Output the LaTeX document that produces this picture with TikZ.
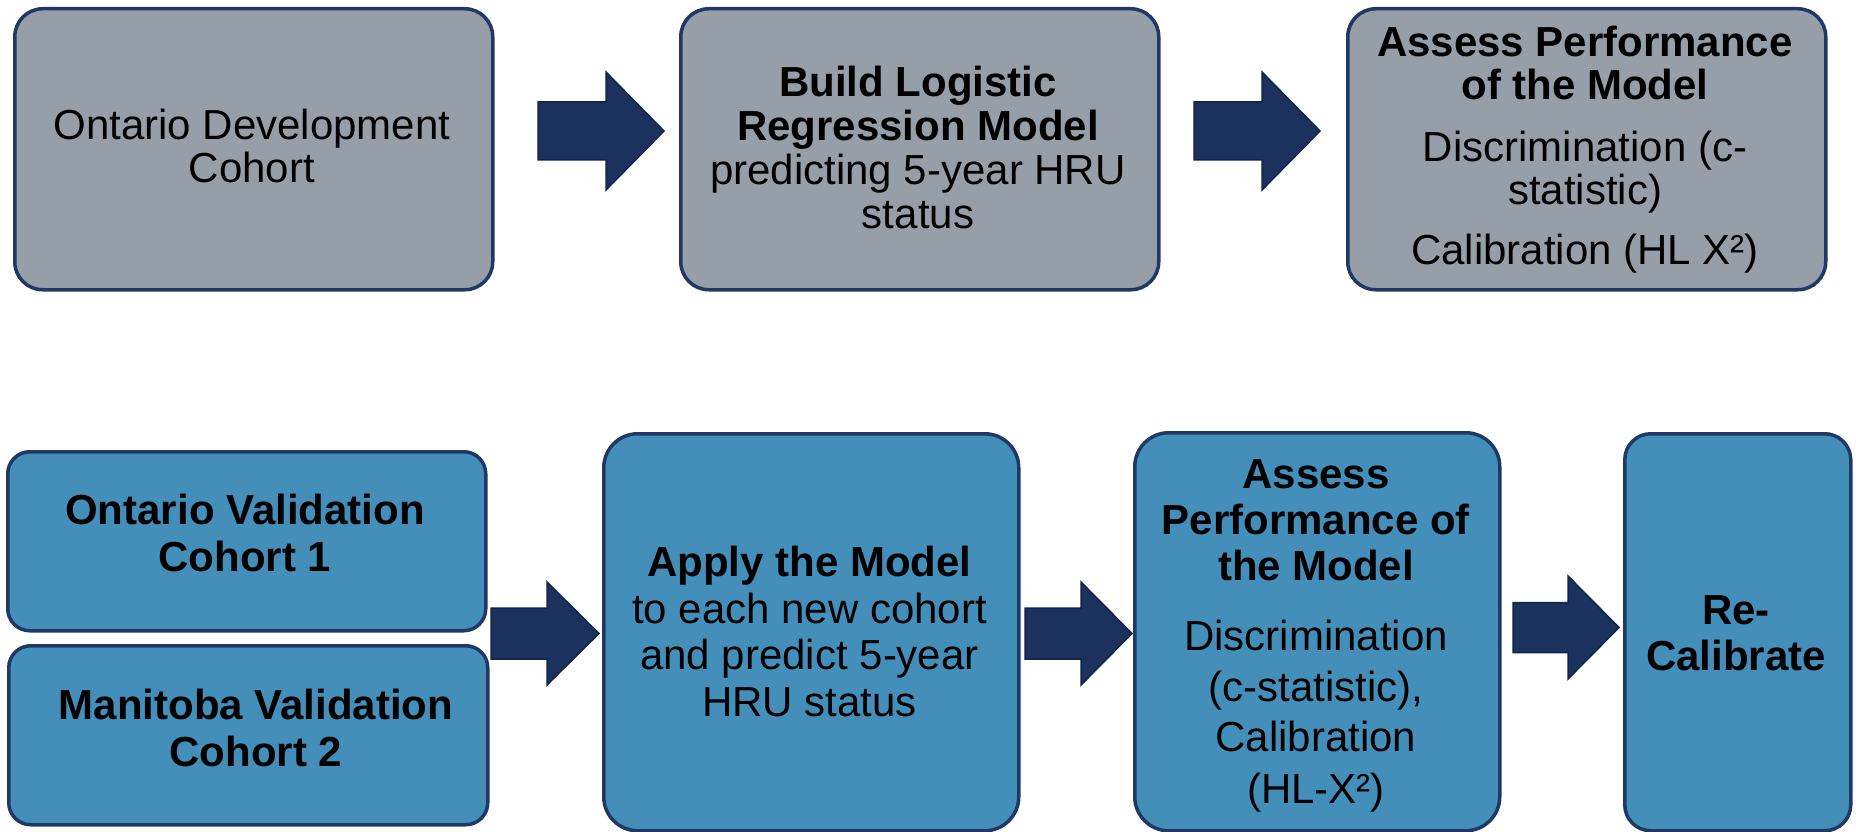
\documentclass[tikz,border=0pt]{standalone}
\usepackage{fontspec}
\setmainfont{Liberation Sans}
\definecolor{boxgray}{RGB}{150,158,168}
\definecolor{boxblue}{RGB}{68,143,186}
\definecolor{navy}{RGB}{31,56,100}
\definecolor{arrowfill}{RGB}{27,49,94}
\definecolor{arrowline}{RGB}{18,36,72}
% block arrow: x-start, x-tip, y-centre, head length, shaft half-width, head half-width
\newcommand{\blockarrow}[6]{%
  \draw[blockarr] (#1,#3-#5) -- (#2-#4,#3-#5) -- (#2-#4,#3-#6) -- (#2,#3)
    -- (#2-#4,#3+#6) -- (#2-#4,#3+#5) -- (#1,#3+#5) -- cycle;}
\begin{document}
\begin{tikzpicture}[x=1pt,y=-1pt,
  box/.style={draw=navy, line width=3.5pt, inner sep=0pt, anchor=north west},
  graybox/.style={box, fill=boxgray},
  bluebox/.style={box, fill=boxblue},
  txt/.style={align=center, inner sep=0pt, text=black,
    execute at begin node=\strut, execute at end node=\strut},
  blockarr/.style={draw=arrowline, fill=arrowfill, line width=1.5pt, line join=miter}
]
\useasboundingbox (0,0) rectangle (1856,832);

% top row boxes
\node[graybox, minimum width=478pt, minimum height=281pt, rounded corners=28pt] (b1) at (13,7) {};
\node[graybox, minimum width=478pt, minimum height=281pt, rounded corners=28pt] (b2) at (679,7) {};
\node[graybox, minimum width=478pt, minimum height=281pt, rounded corners=28pt] (b3) at (1346,7) {};

% bottom row boxes
\node[bluebox, minimum width=478pt, minimum height=179pt, rounded corners=22pt] (b4) at (6,450) {};
\node[bluebox, minimum width=479pt, minimum height=179pt, rounded corners=22pt] (b5) at (7,644) {};
\node[bluebox, minimum width=415pt, minimum height=397pt, rounded corners=34pt] (b6) at (602,432) {};
\node[bluebox, minimum width=365pt, minimum height=398pt, rounded corners=34pt] (b7) at (1133,431) {};
\node[bluebox, minimum width=226pt, minimum height=397pt, rounded corners=26pt] (b8) at (1623,432) {};

% block arrows
\blockarrow{538}{664}{131}{58}{29}{59}
\blockarrow{1194}{1320}{131}{58}{29}{59}
\blockarrow{491}{599}{633.5}{52}{25.5}{51.5}
\blockarrow{1025}{1132}{633.5}{51}{25.5}{51.5}
\blockarrow{1513}{1619}{627.5}{51}{25}{51.5}

% texts
\node[txt, font=\fontsize{42}{43}\selectfont] (t1) at (252,152.5)
  {Ontario Development\\Cohort};
\node[txt, font=\fontsize{42}{44}\selectfont] (t2) at (918,154)
  {\textbf{Build Logistic}\\\textbf{Regression Model}\\predicting 5-year HRU\\status};
\node[txt, font=\fontsize{42}{43}\selectfont] (t3) at (1585,152)
  {\textbf{Assess Performance}\\\textbf{of the Model}\\[19pt]Discrimination (c-\\statistic)\\[17pt]Calibration (HL X²)};
\node[txt, font=\fontsize{42}{47}\selectfont\bfseries] (t4) at (245,539.5)
  {Ontario Validation\\Cohort 1};
\node[txt, font=\fontsize{42}{47}\selectfont\bfseries] (t5) at (256,734.5)
  {Manitoba Validation\\Cohort 2};
\node[txt, font=\fontsize{42}{46.5}\selectfont] (t6) at (809.5,638.5)
  {\textbf{Apply the Model}\\to each new cohort\\and predict 5-year\\HRU status};
\node[txt, font=\fontsize{42}{46}\selectfont] (t7) at (1316,638.3)
  {\textbf{Assess}\\\textbf{Performance of}\\\textbf{the Model}\\[24pt]Discrimination\\[5pt](c-statistic),\\[4pt]Calibration\\[6pt](HL-X²)};
\node[txt, font=\fontsize{42}{46}\selectfont\bfseries] (t8) at (1736,639.5)
  {Re-\\Calibrate};
\end{tikzpicture}
\end{document}
